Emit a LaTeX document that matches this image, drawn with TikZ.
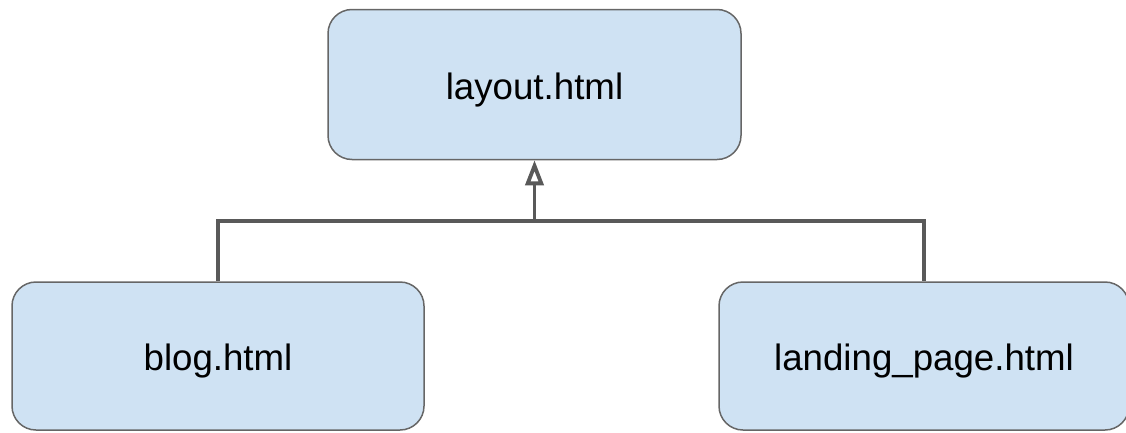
\documentclass[tikz,border=0pt]{standalone}
\usepackage{fontspec}
\setmainfont{Liberation Sans}
\usepackage{xcolor}
\usetikzlibrary{positioning,arrows.meta,calc}
\definecolor{cPage}{HTML}{CFE2F3}
\definecolor{cEdge}{HTML}{666666}
\definecolor{cLink}{HTML}{595959}
\def\px{0.75pt}
\tikzset{
  fig/page/.style={draw=cEdge, line width=1.5*\px, rounded corners=24*\px,
                   fill=cPage, minimum height=150*\px, inner sep=0pt,
                   text height=22pt, text depth=0pt,
                   font=\fontsize{27.5}{33}\selectfont},
  fig/link/.style={draw=cLink, line width=3.8*\px},
  fig/arr/.style ={fig/link, -{Triangle[open, length=25*\px, width=18*\px]}}
}
\begin{document}
\begin{tikzpicture}[x=\px, y=-\px]
    \useasboundingbox (0,0) rectangle (1126,432);
    % parent template and the two pages that extend it
    \node[fig/page, minimum width=413*\px] (layout)  at (534.5, 84.5) {layout.html};
    \node[fig/page, minimum width=412*\px, minimum height=148*\px] (blog)    at (218, 356) {blog.html};
    \node[fig/page, minimum width=410*\px, minimum height=148*\px] (landing) at (924, 356) {landing\_page.html};
    % inheritance fork
    \coordinate (fork) at (layout.south |- 0,221);
    \draw[fig/link] (blog.north) |- (fork) -| (landing.north);
    \draw[fig/arr] (fork) -- (layout.south);
\end{tikzpicture}
\end{document}
